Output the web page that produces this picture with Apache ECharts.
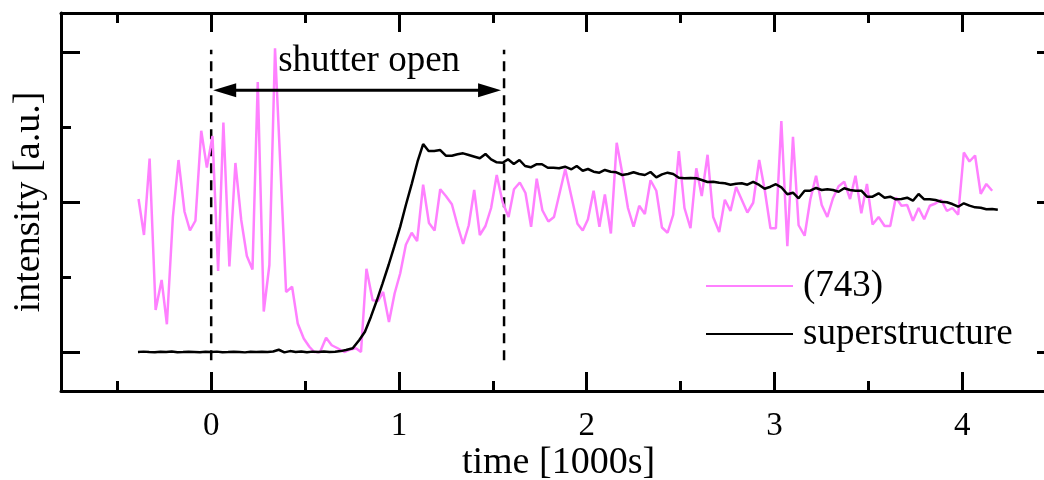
<!DOCTYPE html>
<html>
<head>
<meta charset="utf-8">
<script src="https://cdn.jsdelivr.net/npm/echarts@6/dist/echarts.min.js"></script>
<style>
  html, body { margin: 0; padding: 0; background: #fff; }
  #chart { width: 1044px; height: 480px; }
</style>
</head>
<body>
<div id="chart"></div>
<script>
// time axis is in units of 1000 s, intensity in arbitrary units (baseline = 0)
var xMajor = [0, 1, 2, 3, 4];
var xMinor = [-0.5, 0.5, 1.5, 2.5, 3.5];
var yMajor = [0, 2, 4];
var yMinor = [1, 3];

// (743) reflection
var pinkT = [-0.387, -0.358, -0.328, -0.296, -0.264, -0.236, -0.204, -0.174, -0.142, -0.113,
  -0.084, -0.053, -0.023, 0.007, 0.037, 0.065, 0.097, 0.129, 0.160, 0.190,
  0.220, 0.248, 0.280, 0.310, 0.340, 0.399, 0.431, 0.461, 0.493, 0.523,
  0.549, 0.580, 0.612, 0.642, 0.674, 0.709, 0.736, 0.771, 0.798, 0.827,
  0.860, 0.888, 0.916, 0.947, 0.977, 1.007, 1.037, 1.068, 1.097, 1.129,
  1.160, 1.190, 1.220, 1.250, 1.282, 1.312, 1.342, 1.372, 1.401, 1.431,
  1.461, 1.491, 1.521, 1.552, 1.584, 1.613, 1.644, 1.674, 1.704, 1.734,
  1.764, 1.796, 1.826, 1.856, 1.886, 1.919, 1.951, 1.979, 2.007, 2.037,
  2.068, 2.097, 2.129, 2.160, 2.190, 2.220, 2.250, 2.280, 2.310, 2.340,
  2.371, 2.401, 2.431, 2.461, 2.491, 2.521, 2.553, 2.584, 2.613, 2.644,
  2.674, 2.706, 2.736, 2.766, 2.796, 2.826, 2.856, 2.887, 2.919, 2.948,
  2.979, 3.008, 3.037, 3.069, 3.099, 3.129, 3.161, 3.191, 3.222, 3.252,
  3.282, 3.312, 3.342, 3.372, 3.403, 3.432, 3.463, 3.493, 3.523, 3.555,
  3.587, 3.617, 3.647, 3.677, 3.707, 3.738, 3.768, 3.798, 3.828, 3.858,
  3.888, 3.919, 3.948, 3.979, 4.009, 4.039, 4.069, 4.099, 4.129, 4.160];
var pinkV = [2.04, 1.56, 2.58, 0.56, 0.96, 0.37, 1.80, 2.56, 1.87, 1.62,
  1.75, 2.95, 2.46, 2.88, 1.08, 3.06, 1.14, 2.52, 1.76, 1.28,
  1.10, 3.60, 0.54, 1.16, 4.05, 0.80, 0.87, 0.38, 0.18, 0.07,
  0.00, 0.00, 0.19, 0.09, 0.05, 0.00, 0.03, 0.05, 0.00, 1.11,
  0.69, 0.68, 0.80, 0.40, 0.78, 1.05, 1.43, 1.59, 1.48, 2.23,
  1.72, 1.62, 2.17, 2.08, 1.97, 1.69, 1.44, 1.69, 2.16, 1.56,
  1.68, 1.92, 2.36, 2.00, 1.80, 2.17, 2.26, 2.12, 1.67, 2.31,
  1.89, 1.74, 1.80, 2.12, 2.44, 2.07, 1.71, 1.62, 1.77, 2.15,
  1.67, 2.10, 1.58, 2.79, 2.38, 1.92, 1.67, 1.95, 1.84, 2.29,
  2.15, 1.66, 1.59, 1.83, 2.68, 1.92, 1.65, 2.45, 2.08, 2.63,
  1.80, 1.60, 2.03, 1.88, 2.20, 2.03, 1.86, 1.99, 2.56, 2.17,
  1.65, 1.65, 3.08, 1.41, 2.87, 1.69, 1.55, 2.03, 2.35, 1.96,
  1.80, 2.05, 2.21, 2.27, 2.04, 2.35, 1.85, 2.24, 1.70, 1.80,
  1.68, 1.68, 2.06, 1.95, 1.96, 1.75, 1.92, 1.77, 1.95, 1.98,
  2.03, 1.88, 1.92, 1.83, 2.66, 2.54, 2.62, 2.11, 2.24, 2.15];

// superstructure reflection
var blackT = [-0.39, -0.36, -0.33, -0.30, -0.27, -0.24, -0.21, -0.18, -0.15, -0.12,
  -0.09, -0.06, -0.03, 0.00, 0.03, 0.06, 0.09, 0.12, 0.15, 0.18,
  0.21, 0.24, 0.27, 0.30, 0.33, 0.36, 0.39, 0.42, 0.45, 0.48,
  0.51, 0.54, 0.57, 0.60, 0.63, 0.66, 0.69, 0.718, 0.754, 0.789,
  0.819, 0.851, 0.883, 0.913, 0.945, 0.975, 1.007, 1.037, 1.069, 1.099,
  1.129, 1.158, 1.188, 1.220, 1.250, 1.282, 1.312, 1.342, 1.372, 1.403,
  1.431, 1.461, 1.491, 1.521, 1.552, 1.581, 1.612, 1.642, 1.672, 1.702,
  1.732, 1.762, 1.793, 1.823, 1.853, 1.885, 1.919, 1.947, 1.979, 2.007,
  2.037, 2.068, 2.097, 2.128, 2.158, 2.190, 2.220, 2.250, 2.280, 2.310,
  2.340, 2.371, 2.401, 2.431, 2.461, 2.491, 2.521, 2.553, 2.584, 2.613,
  2.644, 2.674, 2.706, 2.736, 2.766, 2.796, 2.826, 2.856, 2.887, 2.919,
  2.948, 2.979, 3.008, 3.037, 3.069, 3.099, 3.129, 3.161, 3.191, 3.222,
  3.252, 3.282, 3.312, 3.342, 3.372, 3.403, 3.432, 3.463, 3.493, 3.523,
  3.555, 3.587, 3.617, 3.647, 3.677, 3.707, 3.738, 3.768, 3.798, 3.828,
  3.858, 3.888, 3.919, 3.948, 3.979, 4.009, 4.039, 4.069, 4.099, 4.129,
  4.160, 4.190];
var blackV = [0.000, 0.005, 0.000, -0.004, 0.003, 0.000, 0.006, -0.003, 0.000, 0.004,
  0.000, -0.004, 0.003, 0.000, 0.005, -0.003, 0.000, 0.004, 0.000, -0.005,
  0.003, 0.000, 0.004, 0.000, 0.006, 0.030, -0.005, 0.012, 0.000, 0.006,
  -0.004, 0.005, 0.000, 0.006, 0.000, 0.004, 0.012, 0.027, 0.049, 0.160,
  0.271, 0.471, 0.693, 0.916, 1.160, 1.404, 1.671, 1.960, 2.249, 2.537,
  2.773, 2.680, 2.680, 2.693, 2.617, 2.617, 2.636, 2.649, 2.627, 2.604,
  2.583, 2.640, 2.569, 2.529, 2.524, 2.569, 2.507, 2.560, 2.480, 2.463,
  2.503, 2.503, 2.457, 2.457, 2.449, 2.471, 2.436, 2.480, 2.417, 2.440,
  2.404, 2.391, 2.427, 2.404, 2.396, 2.360, 2.373, 2.396, 2.373, 2.360,
  2.400, 2.329, 2.369, 2.391, 2.373, 2.324, 2.316, 2.320, 2.316, 2.293,
  2.267, 2.271, 2.257, 2.249, 2.231, 2.244, 2.249, 2.231, 2.267, 2.227,
  2.177, 2.204, 2.237, 2.196, 2.103, 2.124, 2.049, 2.151, 2.151, 2.187,
  2.160, 2.169, 2.160, 2.137, 2.183, 2.160, 2.151, 2.151, 2.071, 2.071,
  2.116, 2.057, 2.071, 2.036, 2.040, 2.057, 2.017, 2.107, 2.036, 2.036,
  2.027, 2.004, 1.996, 1.973, 1.937, 1.983, 1.951, 1.929, 1.924, 1.903,
  1.907, 1.897];

var seriesNames = ['(743)', 'superstructure'];
var seriesColors = ['#ff80ff', '#000'];

// shutter annotation
var shutterOpen = 0;
var shutterClose = 1.56;
var dashTop = 4.03;
var dashBottom = -0.11;
var arrowY = 3.49;
var labelX = 0.357;
var labelY = 3.87;

function pairs(t, v) {
  var out = [];
  for (var i = 0; i < t.length; i++) out.push([t[i], v[i]]);
  return out;
}

var serif = 'Liberation Serif';
var xMin = -0.8, xMax = 4.5, yMin = -0.52, yMax = 4.52;
var frame = { color: '#000', width: 3 };

function xAx(pos, ticks, len, line, labels) {
  return {
    type: 'value', position: pos, min: xMin, max: xMax,
    axisLine: { show: line, onZero: false, lineStyle: frame },
    axisTick: { show: true, inside: true, length: len, customValues: ticks, lineStyle: frame },
    axisLabel: labels ? {
      show: true, customValues: ticks, margin: 19,
      fontFamily: serif, fontSize: 33, color: '#000'
    } : { show: false },
    splitLine: { show: false }
  };
}
function yAx(pos, ticks, len, line) {
  return {
    type: 'value', position: pos, min: yMin, max: yMax,
    axisLine: { show: line, onZero: false, lineStyle: frame },
    axisTick: { show: true, inside: true, length: len, customValues: ticks, lineStyle: frame },
    axisLabel: { show: false },
    splitLine: { show: false }
  };
}

var xAxes = [
  xAx('bottom', xMajor, 19, true, true),
  xAx('bottom', xMinor, 10, false, false),
  xAx('top', xMajor, 19, true, false),
  xAx('top', xMinor, 10, false, false)
];
xAxes[0].name = 'time [1000s]';
xAxes[0].nameLocation = 'middle';
xAxes[0].nameGap = 53;
xAxes[0].nameMoveOverlap = false;
xAxes[0].nameTextStyle = { fontFamily: serif, fontSize: 38, color: '#000' };

var yAxes = [
  yAx('left', yMajor, 19, true),
  yAx('left', yMinor, 10, false),
  yAx('right', yMajor, 19, true),
  yAx('right', yMinor, 10, false)
];
yAxes[0].name = 'intensity [a.u.]';
yAxes[0].nameLocation = 'middle';
yAxes[0].nameGap = 13;
yAxes[0].nameMoveOverlap = false;
yAxes[0].nameTextStyle = { fontFamily: serif, fontSize: 38, color: '#000' };

// legend drawn as a small graphic block (line sample + label per series)
var legendItems = [];
for (var i = 0; i < seriesNames.length; i++) {
  var y = i * 48;
  legendItems.push({ type: 'line', shape: { x1: 0, y1: y, x2: 87, y2: y },
    style: { stroke: seriesColors[i], lineWidth: 2 } });
  legendItems.push({ type: 'text', x: 97, y: y,
    style: { text: seriesNames[i], fontFamily: serif, fontSize: 37, fill: '#000',
             align: 'left', verticalAlign: 'middle' } });
}

var chart = echarts.init(document.getElementById('chart'), null, { renderer: 'canvas' });

chart.setOption({
  animation: false,
  backgroundColor: '#fff',
  textStyle: { fontFamily: serif },
  grid: { left: 61, top: 13, width: 995, height: 378, containLabel: false, outerBoundsMode: 'none' },
  xAxis: xAxes,
  yAxis: yAxes,
  graphic: [{ type: 'group', x: 706, y: 286, silent: true, children: legendItems }],
  series: [
    {
      name: seriesNames[0], type: 'line', data: pairs(pinkT, pinkV),
      showSymbol: false, symbol: 'none',
      lineStyle: { color: seriesColors[0], width: 2.5 }, z: 3
    },
    {
      name: seriesNames[1], type: 'line', data: pairs(blackT, blackV),
      showSymbol: false, symbol: 'none',
      lineStyle: { color: seriesColors[1], width: 2.5 }, z: 4
    },
    {
      name: 'open', type: 'line', data: [[shutterOpen, dashBottom], [shutterOpen, dashTop]],
      showSymbol: false, symbol: 'none', silent: true,
      lineStyle: { color: '#000', width: 2.5, type: [10, 7] }, z: 2
    },
    {
      name: 'close', type: 'line', data: [[shutterClose, dashBottom], [shutterClose, dashTop]],
      showSymbol: false, symbol: 'none', silent: true,
      lineStyle: { color: '#000', width: 2.5, type: [10, 7] }, z: 2
    },
    {
      name: 'arrow', type: 'custom', silent: true, clip: false, z: 5,
      data: [[shutterOpen, shutterClose, arrowY]],
      renderItem: function (params, api) {
        var a = api.coord([api.value(0), api.value(2)]);
        var b = api.coord([api.value(1), api.value(2)]);
        var t = api.coord([labelX, labelY]);
        var hl = 23, hw = 7;
        a[0] += 2; b[0] -= 3;
        return {
          type: 'group',
          children: [
            { type: 'line', shape: { x1: a[0] + hl - 2, y1: a[1], x2: b[0] - hl + 2, y2: b[1] },
              style: { stroke: '#000', lineWidth: 3 } },
            { type: 'polygon', shape: { points: [[a[0], a[1]], [a[0] + hl, a[1] - hw], [a[0] + hl, a[1] + hw]] },
              style: { fill: '#000' } },
            { type: 'polygon', shape: { points: [[b[0], b[1]], [b[0] - hl, b[1] - hw], [b[0] - hl, b[1] + hw]] },
              style: { fill: '#000' } },
            { type: 'text', x: t[0], y: t[1],
              style: { text: 'shutter open', fontFamily: serif, fontSize: 37, fill: '#000',
                       align: 'left', verticalAlign: 'middle' } }
          ]
        };
      }
    }
  ]
});
</script>
</body>
</html>
